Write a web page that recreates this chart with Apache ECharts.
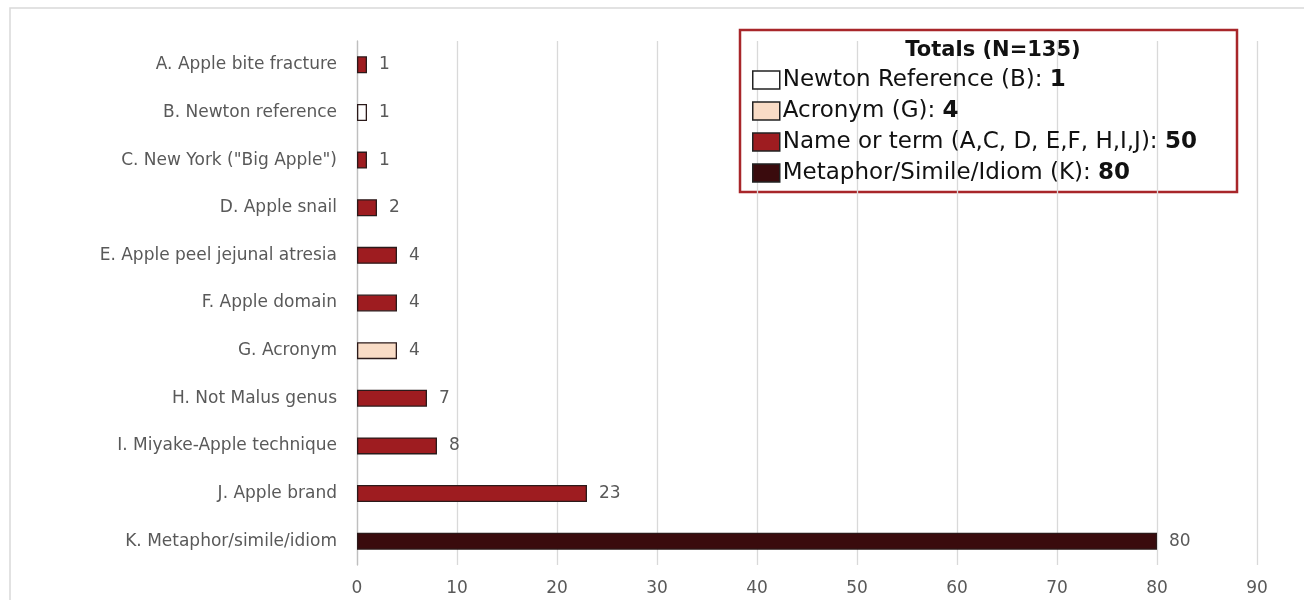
<!DOCTYPE html>
<html>
<head>
<meta charset="utf-8">
<title>Apple usages</title>
<script src="https://cdn.jsdelivr.net/npm/echarts@6/dist/echarts.min.js"></script>
<style>
  html, body { margin: 0; padding: 0; background: #fff; }
  #chart { width: 1304px; height: 600px; }
</style>
</head>
<body>
<div id="chart"></div>
<script>
'use strict';

var categories = [
    'A. Apple bite fracture',
    'B. Newton reference',
    'C. New York ("Big Apple")',
    'D. Apple snail',
    'E. Apple peel jejunal atresia',
    'F. Apple domain',
    'G. Acronym',
    'H. Not Malus genus',
    'I. Miyake-Apple technique',
    'J. Apple brand',
    'K. Metaphor/simile/idiom'
];
var counts = [1, 1, 1, 2, 4, 4, 4, 7, 8, 23, 80];
// which group each category belongs to (index into groupNames)
var groupOf = [2, 0, 2, 2, 2, 2, 1, 2, 2, 2, 3];
var groupNames = ['Newton Reference (B)', 'Acronym (G)', 'Name or term (A,C, D, E,F, H,I,J)', 'Metaphor/Simile/Idiom (K)'];
var groupTotals = [1, 4, 50, 80];
var groupColors = ['#ffffff', '#f9dcc6', '#9e1c20', '#3a0b0d'];
var xTicks = [0, 10, 20, 30, 40, 50, 60, 70, 80, 90];

// category axis runs bottom-up, so reverse to keep A on top
var cats = categories.slice().reverse();

var series = [];
groupNames.forEach(function (name, g) {
    var data = [];
    for (var i = categories.length - 1; i >= 0; i--) {
        data.push(groupOf[i] === g ? counts[i] : '-');
    }
    series.push({
        name: name,
        type: 'bar',
        stack: 'all',
        barWidth: 17,
        data: data,
        itemStyle: {
            color: groupColors[g],
            borderColor: '#2b1a1a',
            borderWidth: 1.3
        },
        label: {
            show: true,
            position: 'right',
            distance: 12,
            color: '#595959',
            fontSize: 17,
            fontFamily: 'DejaVu Sans'
        }
    });
});

var totals = {};
groupNames.forEach(function (n, g) { totals[n] = groupTotals[g]; });

var options = {
    animation: false,
    backgroundColor: '#fff',
    title: {
        text: 'Totals (N=135)',
        left: 988,
        textAlign: 'center',
        top: 35,
        textStyle: { fontFamily: 'DejaVu Sans', fontSize: 21, fontWeight: 'bold', color: '#111' }
    },
    legend: {
        orient: 'vertical',
        left: 752,
        top: 65,
        padding: 0,
        itemGap: 1,
        itemWidth: 27,
        itemHeight: 18,
        icon: 'rect',
        itemStyle: { borderColor: '#222', borderWidth: 1.5 },
        formatter: function (n) {
            return n + ': {b|' + totals[n] + '}';
        },
        textStyle: {
            fontFamily: 'DejaVu Sans',
            fontSize: 23,
            lineHeight: 30,
            padding: [0, 0, 0, -2],
            color: '#111',
            rich: { b: { fontFamily: 'DejaVu Sans', fontSize: 23, lineHeight: 30, fontWeight: 'bold', color: '#111' } }
        }
    },
    graphic: [{
        type: 'rect',
        shape: { x: 10, y: 8, width: 1300, height: 600 },
        style: { fill: 'none', stroke: '#d9d9d9', lineWidth: 1.5 },
        z: -1,
        silent: true
    }, {
        type: 'rect',
        shape: { x: 740, y: 30, width: 497, height: 162 },
        style: { fill: '#fff', stroke: '#a8262a', lineWidth: 2.5 },
        z: 0,
        silent: true
    }],
    grid: { left: 357, right: 47, top: 41, bottom: 35, containLabel: false },
    xAxis: {
        type: 'value',
        min: xTicks[0],
        max: xTicks[xTicks.length - 1],
        interval: 10,
        axisLine: { show: false },
        axisTick: { show: false },
        splitLine: { lineStyle: { color: '#d9d9d9', width: 1.3 } },
        axisLabel: { color: '#595959', fontSize: 17, fontFamily: 'DejaVu Sans', margin: 15 }
    },
    yAxis: {
        type: 'category',
        data: cats,
        axisLine: { lineStyle: { color: '#bfbfbf', width: 1.3 } },
        axisTick: { show: false },
        axisLabel: { color: '#595959', fontSize: 17, fontFamily: 'DejaVu Sans', margin: 20 }
    },
    series: series
};

var myChart = echarts.init(document.getElementById('chart'));
myChart.setOption(options);
</script>
</body>
</html>
